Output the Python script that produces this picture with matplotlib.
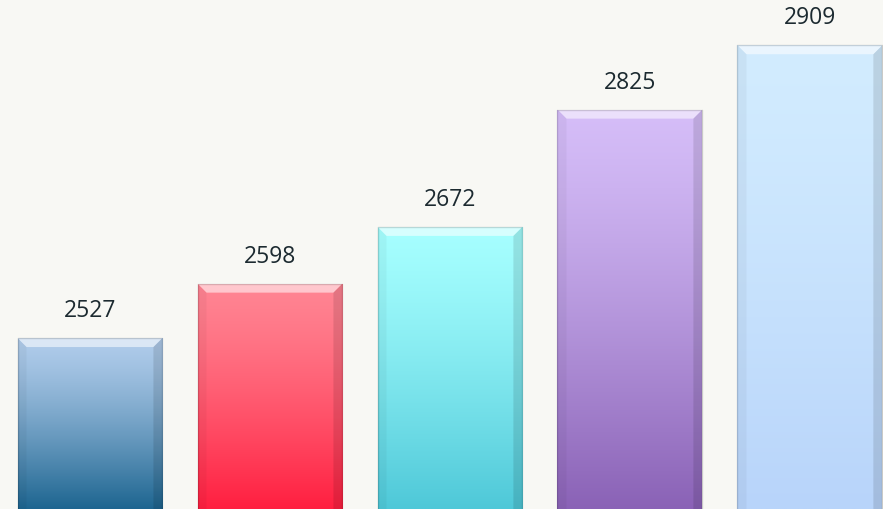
import numpy as np
import matplotlib
matplotlib.use('Agg')
from matplotlib import pyplot as plt
from matplotlib.colors import to_rgb
from matplotlib.patches import Polygon

values = [2527, 2598, 2672, 2825, 2909]
top_colors = ['#b0cceb', '#ff8593', '#a6ffff', '#d5bdf8', '#d2ecff']
bottom_colors = ['#1d6590', '#ff1f40', '#4ec8d8', '#8a62b6', '#b8d4fa']

bg = '#f8f8f4'
fig = plt.figure(figsize=(8.83, 5.09), dpi=100, facecolor=bg)
ax = fig.add_axes([0, 0, 1, 1])
ax.set_facecolor(bg)
ax.set_xlim(-0.5, 4.406)
ax.set_ylim(2304, 2968)
ax.axis('off')

x = np.arange(len(values))
bars = ax.bar(x, values, width=0.805, color='none', edgecolor='none')

y0 = ax.get_ylim()[0]
# bevel size in pixels -> data units
px_x = (ax.get_xlim()[1] - ax.get_xlim()[0]) / 883
px_y = (ax.get_ylim()[1] - ax.get_ylim()[0]) / 509
bv = 9

for b, v, ct, cb in zip(bars, values, top_colors, bottom_colors):
    l = b.get_x()
    r = l + b.get_width()
    t = v
    c1 = np.array(to_rgb(ct))
    c2 = np.array(to_rgb(cb))
    s = np.linspace(0, 1, 256)[:, None] ** 1.3
    grad = c1 * (1 - s) + c2 * s
    img = ax.imshow(grad[:, None, :], extent=(l, r, y0, t), aspect='auto',
                    interpolation='bilinear', zorder=2)
    img.set_clip_path(b)
    dx = bv * px_x
    dy = bv * px_y
    # top highlight
    ax.add_patch(Polygon([(l, t), (r, t), (r - dx, t - dy), (l + dx, t - dy)],
                         closed=True, facecolor='white', alpha=0.55,
                         edgecolor='none', zorder=3))
    # left edge
    ax.add_patch(Polygon([(l, t), (l + dx, t - dy), (l + dx, y0), (l, y0)],
                         closed=True, facecolor='black', alpha=0.04,
                         edgecolor='none', zorder=3))
    # right edge
    ax.add_patch(Polygon([(r, t), (r - dx, t - dy), (r - dx, y0), (r, y0)],
                         closed=True, facecolor='black', alpha=0.11,
                         edgecolor='none', zorder=3))
    # thin outline
    ax.plot([l, l, r, r], [y0, t, t, y0], color='black', alpha=0.15, lw=1,
            zorder=4)
    ax.text(b.get_x() + b.get_width() / 2, v + 15 * px_y, str(v),
            ha='center', va='bottom', fontsize=16.5, family='Open Sans',
            color='#1c2a30', zorder=5)

fig.savefig('out.png', dpi=100, facecolor=bg)
